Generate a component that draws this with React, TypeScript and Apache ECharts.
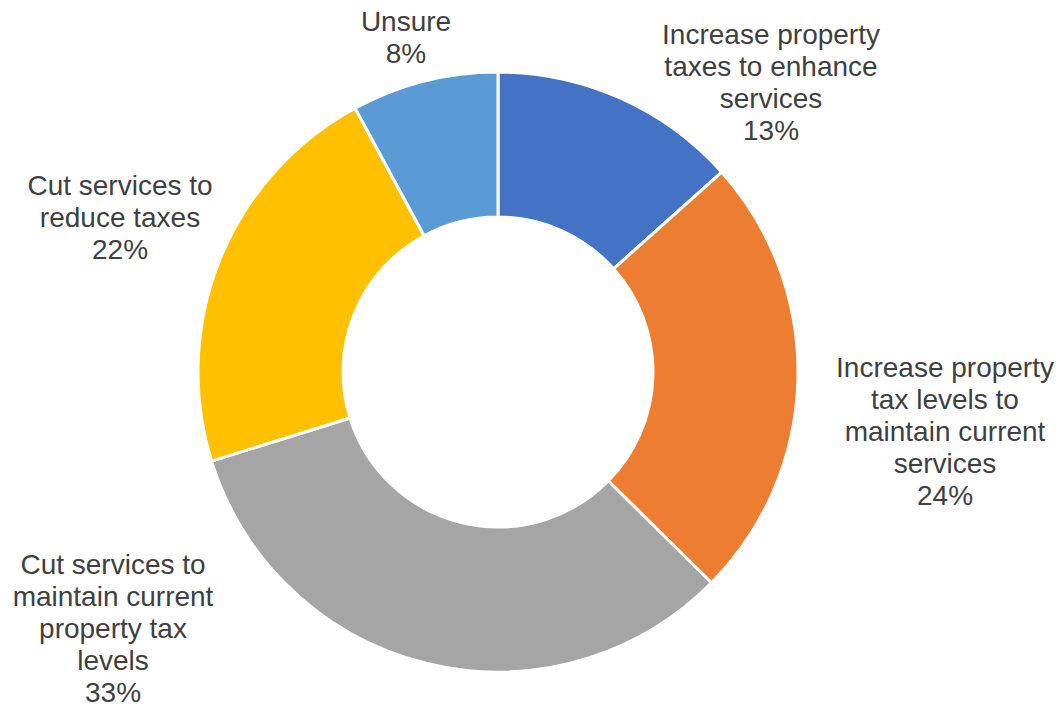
import React, { useEffect, useRef } from "react";
import * as echarts from "echarts";

const categories = [
  "Increase property\ntaxes to enhance\nservices",
  "Increase property\ntax levels to\nmaintain current\nservices",
  "Cut services to\nmaintain current\nproperty tax\nlevels",
  "Cut services to\nreduce taxes",
  "Unsure",
];
const values = [13.4, 24.0, 32.8, 21.9, 7.9];
const colors = ["#4472C4", "#ED7D31", "#A5A5A5", "#FFC000", "#5B9BD5"];
// label centre anchors (px) for each slice
const labelAnchors: [number, number][] = [
  [771, 82],
  [945, 431],
  [113, 628],
  [120, 217],
  [406, 37],
];

export default function App() {
  const ref = useRef<HTMLDivElement>(null);
  useEffect(() => {
    if (!ref.current) return;
    const chart = echarts.init(ref.current, undefined, { renderer: "svg" });
    chart.setOption({
      animation: false,
      backgroundColor: "#ffffff",
      series: [
        {
          type: "pie",
          center: [498, 372],
          radius: [155, 300],
          startAngle: 90,
          clockwise: true,
          avoidLabelOverlap: false,
          itemStyle: { borderColor: "#ffffff", borderWidth: 3 },
          label: {
            show: true,
            position: "outside",
            formatter: (p: any) => `${p.name}\n${Math.round(p.value)}%`,
            color: "#404040",
            fontFamily: "Liberation Sans, Arial, sans-serif",
            fontSize: 28,
            lineHeight: 32,
            align: "center",
          },
          labelLine: { show: false },
          labelLayout: (params: any) => {
            const a = labelAnchors[params.dataIndex];
            return { x: a[0], y: a[1], align: "center", verticalAlign: "middle" };
          },
          data: categories.map((c, i) => ({
            name: c,
            value: values[i],
            itemStyle: { color: colors[i] },
          })),
        },
      ],
    });
    return () => chart.dispose();
  }, []);
  return (
    <div
      ref={ref}
      style={{ position: "fixed", left: 0, top: 0, width: 1060, height: 706 }}
    />
  );
}
